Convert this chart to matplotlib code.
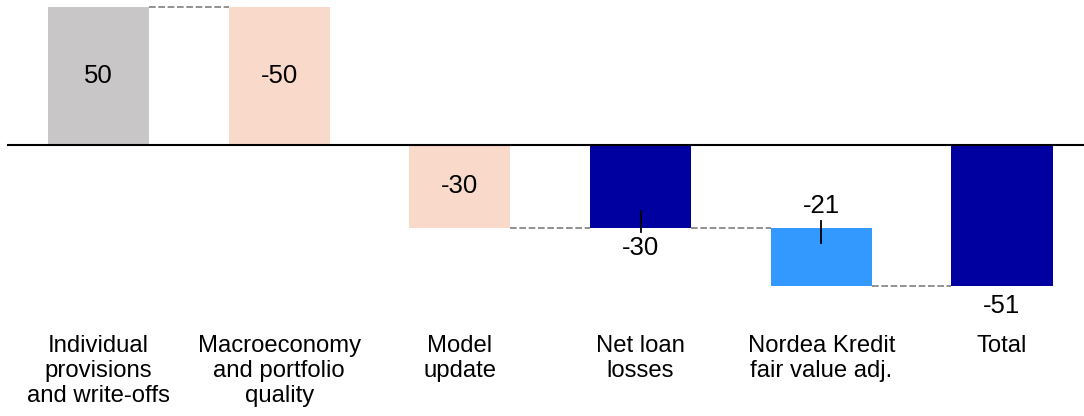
import matplotlib
matplotlib.use('Agg')
import matplotlib.pyplot as plt
import numpy as np

plt.rcParams['font.family'] = ['Liberation Sans', 'DejaVu Sans']

# Waterfall data
categories = ['Individual\nprovisions\nand write-offs', 'Macroeconomy\nand portfolio\nquality',
              'Model\nupdate', 'Net loan\nlosses', 'Nordea Kredit\nfair value adj.', 'Total']
values = [50, -50, -30, -30, -21, -51]
labels = ['50', '-50', '-30', '-30', '-21', '-51']
is_total = [False, False, False, True, False, True]
colors = ['#C8C6C7', '#F9D9CA', '#F9D9CA', '#0000A0', '#3399FF', '#0000A0']
# label placement: inside bar, below bar, or above bar
label_pos = ['in', 'in', 'in', 'below', 'above', 'below']
# short vertical marks (value range) on two bars
mark_idx = [3, 4]
mark_top = [-23.9, -27.6]
mark_bottom = [-31.6, -35.5]

# compute bar bottoms / tops
bottoms, tops, levels = [], [], []
running = 0
for v, tot in zip(values, is_total):
    if tot:
        b, t = 0, v
        running = v
    else:
        b, t = running, running + v
        running += v
    bottoms.append(b)
    tops.append(t)
    levels.append(running)

x = np.arange(len(values))
width = 0.56

fig = plt.figure(figsize=(10.84, 4.16), dpi=100)
ax = fig.add_axes([0, 0, 1, 1])
ax.set_xlim(-0.545, 5.454)
ax.set_ylim(-98.3, 52.6)
ax.axis('off')

# dashed connectors
for i in range(len(values) - 1):
    ax.plot([x[i] + width / 2, x[i + 1] - width / 2], [levels[i], levels[i]],
            ls=(0, (4, 1.6)), color='#7F7F7F', lw=1.2, zorder=1)

heights = [t - b for b, t in zip(bottoms, tops)]
ax.bar(x, heights, bottom=bottoms, width=width, color=colors, zorder=2)

# baseline
ax.plot([-0.5, 5.454], [0, 0], color='black', lw=1.5, zorder=3)

# vertical marks
for i, t, b in zip(mark_idx, mark_top, mark_bottom):
    ax.plot([x[i], x[i]], [t, b], color='black', lw=1.3, zorder=4)

# value labels
for i, (lab, pos) in enumerate(zip(labels, label_pos)):
    lo, hi = min(bottoms[i], tops[i]), max(bottoms[i], tops[i])
    if pos == 'in':
        y = (lo + hi) / 2
    elif pos == 'below':
        y = lo - 7.3
    else:
        y = hi + 7.9
    ax.text(x[i], y, lab, ha='center', va='center', fontsize=18.5, color='black', zorder=5)

# category labels
for i, cat in enumerate(categories):
    ax.text(x[i], -68.8, cat, ha='center', va='top', fontsize=17.2, linespacing=1.2)

fig.savefig('out.png', dpi=100)
